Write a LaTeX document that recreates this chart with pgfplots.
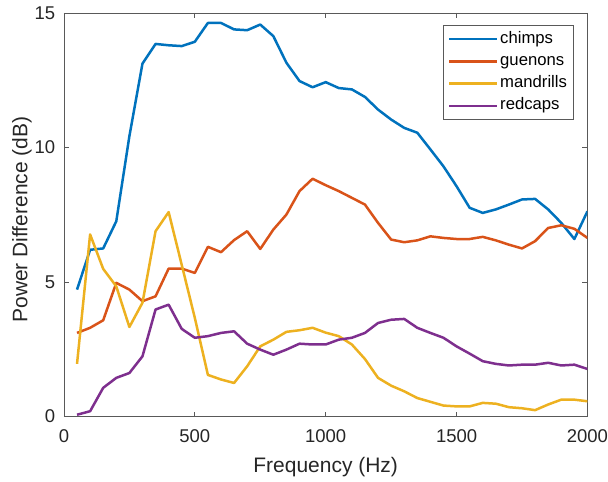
\documentclass[border=0pt]{standalone}
\usepackage{pgfplots}
\pgfplotsset{compat=1.18}
\usepackage{pgfplotstable}
\usepackage{fontspec}
\setmainfont{Liberation Sans}
\definecolor{mblue}{rgb}{0,0.447,0.741}
\definecolor{morange}{rgb}{0.85,0.325,0.098}
\definecolor{myellow}{rgb}{0.929,0.694,0.125}
\definecolor{mpurple}{rgb}{0.494,0.184,0.556}
\definecolor{axgray}{rgb}{0.15,0.15,0.15}
\definecolor{boxgray}{rgb}{0.35,0.35,0.35}

\pgfplotstableread{
f chimps guenons mandrills redcaps
50 4.72 3.11 1.96 0.07
100 6.20 3.30 6.77 0.20
150 6.25 3.58 5.49 1.07
200 7.26 4.97 4.84 1.44
250 10.42 4.72 3.33 1.62
300 13.12 4.29 4.23 2.24
350 13.85 4.47 6.89 3.98
400 13.80 5.50 7.60 4.16
450 13.77 5.50 5.64 3.26
500 13.93 5.34 3.67 2.93
550 14.63 6.31 1.55 2.99
600 14.63 6.11 1.38 3.11
650 14.39 6.56 1.25 3.17
700 14.36 6.89 1.87 2.71
750 14.57 6.23 2.61 2.49
800 14.14 6.95 2.86 2.30
850 13.15 7.51 3.15 2.49
900 12.47 8.38 3.21 2.71
950 12.24 8.84 3.30 2.68
1000 12.43 8.60 3.12 2.68
1050 12.21 8.38 2.99 2.86
1100 12.16 8.13 2.68 2.93
1150 11.88 7.88 2.14 3.11
1200 11.41 7.20 1.44 3.48
1250 11.04 6.58 1.15 3.60
1300 10.73 6.48 0.94 3.63
1350 10.55 6.55 0.69 3.30
1400 9.93 6.70 0.55 3.11
1450 9.30 6.64 0.41 2.93
1500 8.56 6.60 0.38 2.61
1550 7.76 6.60 0.38 2.34
1600 7.57 6.68 0.51 2.06
1650 7.70 6.55 0.48 1.96
1700 7.88 6.39 0.35 1.90
1750 8.07 6.25 0.31 1.93
1800 8.09 6.52 0.24 1.93
1850 7.70 7.01 0.45 2.00
1900 7.20 7.11 0.63 1.90
1950 6.60 6.98 0.63 1.93
2000 7.63 6.64 0.57 1.77
}\datatable

\begin{document}
\begin{tikzpicture}
\begin{axis}[
  scale only axis,
  width=524pt, height=404pt,
  xmin=0, xmax=2000, ymin=0, ymax=15,
  xtick={0,500,1000,1500,2000},
  ytick={0,5,10,15},
  tick align=inside,
  major tick length=5pt,
  axis line style={boxgray, line width=0.7pt},
  tick style={boxgray, line width=0.7pt},
  /pgf/number format/assume math mode=true,
  /pgf/number format/1000 sep={},
  ticklabel style={font=\fontsize{18.5}{22}\selectfont, text=axgray, inner sep=0pt},
  xticklabel style={anchor=base, yshift=-26pt},
  yticklabel style={anchor=east, xshift=-8.5pt},
  xlabel={Frequency (Hz)},
  ylabel={Power Difference (dB)},
  label style={font=\fontsize{21}{24}\selectfont, text=axgray, inner sep=0pt},
  xlabel style={at={(axis description cs:0.5,-0.1386)}, anchor=base},
  ylabel style={at={(axis description cs:-0.080,0.488)}, anchor=center},
  legend style={at={(0.973,0.970)}, anchor=north east,
    font=\fontsize{16.7}{19}\selectfont, draw=boxgray, line width=0.7pt,
    inner xsep=4pt, inner ysep=2.5pt, row sep=0pt,
    nodes={text height=11.5pt, text depth=3.6pt, inner ysep=3.6pt, inner xsep=2pt, text=black},
    /tikz/every even column/.append style={column sep=0pt}},
  legend cell align=left,
  legend image code/.code={\draw[#1, line width=2.5pt] (0pt,0pt) -- (48pt,0pt);},
  every axis plot/.append style={line width=2.5pt, line join=round},
]
\addplot[mblue] table[x=f, y=chimps] {\datatable};
\addplot[morange] table[x=f, y=guenons] {\datatable};
\addplot[myellow] table[x=f, y=mandrills] {\datatable};
\addplot[mpurple] table[x=f, y=redcaps] {\datatable};
\legend{chimps, guenons, mandrills, redcaps}
\end{axis}
\path ([xshift=-64pt,yshift=-65pt]current axis.south west) rectangle ([xshift=20pt,yshift=13pt]current axis.north east);
\end{tikzpicture}
\end{document}
